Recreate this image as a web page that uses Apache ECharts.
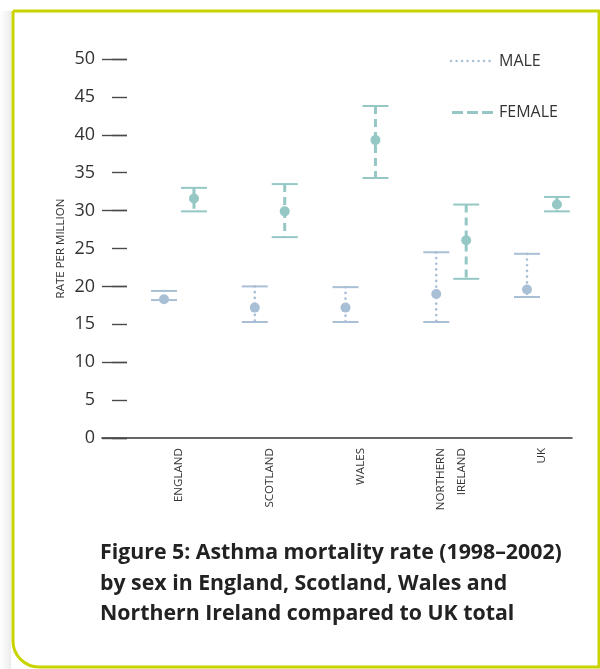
<!DOCTYPE html>
<html>
<head>
<meta charset="utf-8">
<script src="https://cdn.jsdelivr.net/npm/echarts@6/dist/echarts.min.js"></script>
<style>
html,body{margin:0;padding:0;background:#fff;}
#chart{width:600px;height:669px;}
</style>
</head>
<body>
<div id="chart"></div>
<script>
// ---- data ----
const categories = ['ENGLAND', 'SCOTLAND', 'WALES', 'NORTHERN\nIRELAND', 'UK'];
const maleRate   = [18.3, 17.2, 17.2, 19.0, 19.6];
const maleLow    = [18.2, 15.3, 15.3, 15.3, 18.6];
const maleHigh   = [19.4, 20.0, 19.9, 24.5, 24.3];
const femaleRate = [31.6, 29.9, 39.3, 26.1, 30.8];
const femaleLow  = [29.9, 26.5, 34.3, 21.0, 29.9];
const femaleHigh = [33.0, 33.5, 43.8, 30.8, 31.8];
const seriesNames = ['MALE', 'FEMALE'];
const titleText = 'Figure 5: Asthma mortality rate (1998\u20132002)\nby sex in England, Scotland, Wales and\nNorthern Ireland compared to UK total';
const yAxisTitle = 'RATE PER MILLION';

// ---- styles ----
const MALE_COLOR = '#a9bfd6';
const FEMALE_COLOR = '#95c8c5';
const FONT = '"Open Sans", sans-serif';

function makeData(low, mid, high) {
  return categories.map((c, i) => [i, low[i], mid[i], high[i]]);
}

function errRender(offset, color, dash, lw, cap) {
  return function (params, api) {
    const x = api.value(0) + offset;
    const lo = api.coord([x, api.value(1)]);
    const md = api.coord([x, api.value(2)]);
    const hi = api.coord([x, api.value(3)]);
    const half = 13;
    return {
      type: 'group',
      children: [
        { type: 'line', shape: { x1: hi[0], y1: hi[1], x2: lo[0], y2: lo[1] },
          style: { stroke: color, lineWidth: lw, lineDash: dash, lineCap: cap } },
        { type: 'line', shape: { x1: hi[0] - half, y1: hi[1], x2: hi[0] + half, y2: hi[1] },
          style: { stroke: color, lineWidth: 2 } },
        { type: 'line', shape: { x1: lo[0] - half, y1: lo[1], x2: lo[0] + half, y2: lo[1] },
          style: { stroke: color, lineWidth: 2 } },
        { type: 'circle', shape: { cx: md[0], cy: md[1], r: 5 },
          style: { fill: color } }
      ]
    };
  };
}

const chart = echarts.init(document.getElementById('chart'), null, { renderer: 'canvas' });

const innerGrid = { left: 127, right: 28, top: 59, bottom: 231, containLabel: false, outerBoundsMode: 'none' };
const outerGrid = { left: 102, right: 28, top: 59, bottom: 231, containLabel: false, outerBoundsMode: 'none' };

chart.setOption({
  animation: false,
  backgroundColor: '#fff',
  title: {
    text: titleText,
    left: 95,
    top: 533,
    textStyle: { fontFamily: '"Open Sans", sans-serif', fontSize: 21.3, fontWeight: 'bold', color: '#222', lineHeight: 30.5 }
  },
  grid: [Object.assign({}, innerGrid), Object.assign({}, innerGrid), Object.assign({}, outerGrid)],
  xAxis: [
    {
      gridIndex: 0,
      type: 'value',
      min: -0.573,
      max: 4.331,
      axisLine: { show: false, onZero: false },
      axisTick: { show: false },
      splitLine: { show: false },
      axisLabel: {
        customValues: [0, 1, 2, 3, 4],
        formatter: v => categories[Math.round(v)] || '',
        rotate: 90,
        margin: 10,
        fontSize: 11.6,
        lineHeight: 21,
        color: '#333',
        fontFamily: FONT
      }
    },
    { gridIndex: 1, type: 'value', min: 0, max: 1, show: false, axisLine: { onZero: false } },
    {
      gridIndex: 2, type: 'value', min: 0, max: 1,
      axisLine: { show: true, onZero: false, lineStyle: { color: '#333', width: 1.5 } },
      axisTick: { show: false }, axisLabel: { show: false }, splitLine: { show: false }
    }
  ],
  yAxis: [
    {
      gridIndex: 0,
      type: 'value', min: 0, max: 50, interval: 5, position: 'left',
      axisLine: { show: false, onZero: false },
      axisTick: { show: true, length: 15, lineStyle: { color: '#4a4a4a', width: 1.4 } },
      axisLabel: { margin: 32, fontSize: 18, color: '#333', fontFamily: FONT },
      splitLine: { show: false },
      name: yAxisTitle, nameLocation: 'middle', nameRotate: 90, nameGap: 60,
      nameMoveOverlap: false,
      nameTextStyle: { fontSize: 11.5, color: '#333', fontFamily: FONT }
    },
    {
      gridIndex: 1,
      type: 'value', min: 0, max: 50, interval: 10, position: 'left',
      axisLine: { show: false, onZero: false },
      axisTick: { show: true, length: 25, lineStyle: { color: '#4a4a4a', width: 1.4 } },
      axisLabel: { show: false },
      splitLine: { show: false }
    },
    { gridIndex: 2, type: 'value', min: 0, max: 50, show: false, axisLine: { onZero: false } }
  ],
  series: [
    {
      name: seriesNames[0], type: 'custom', xAxisIndex: 0, yAxisIndex: 0,
      renderItem: errRender(-0.165, MALE_COLOR, [0.1, 5.6], 2.6, 'round'),
      encode: { x: 0, y: [1, 2, 3] },
      data: makeData(maleLow, maleRate, maleHigh)
    },
    {
      name: seriesNames[1], type: 'custom', xAxisIndex: 0, yAxisIndex: 0,
      renderItem: errRender(0.165, FEMALE_COLOR, [8, 5], 3, 'butt'),
      encode: { x: 0, y: [1, 2, 3] },
      data: makeData(femaleLow, femaleRate, femaleHigh)
    }
  ],
  graphic: [
    { type: 'rect', shape: { x: 0, y: 11, width: 11, height: 658 },
      style: { fill: new echarts.graphic.LinearGradient(0, 0, 1, 0, [
        { offset: 0, color: '#ffffff' }, { offset: 1, color: '#ececec' }]) }, silent: true },
    { type: 'rect', shape: { x: 13, y: 11, width: 586, height: 656, r: [0, 0, 0, 26] },
      style: { fill: 'none', stroke: '#c9d300', lineWidth: 3 }, silent: true },
    { type: 'line', shape: { x1: 451, y1: 61, x2: 493, y2: 61 },
      style: { stroke: MALE_COLOR, lineWidth: 2.4, lineDash: [0.1, 5.4], lineCap: 'round' } },
    { type: 'text', x: 499, y: 61, style: { text: seriesNames[0], fontSize: 16, fill: '#333', fontFamily: FONT, verticalAlign: 'middle' } },
    { type: 'line', shape: { x1: 452, y1: 112.5, x2: 493, y2: 112.5 },
      style: { stroke: FEMALE_COLOR, lineWidth: 3, lineDash: [11, 4] } },
    { type: 'text', x: 499, y: 112, style: { text: seriesNames[1], fontSize: 16, fill: '#333', fontFamily: FONT, verticalAlign: 'middle' } }
  ]
});
</script>
</body>
</html>
